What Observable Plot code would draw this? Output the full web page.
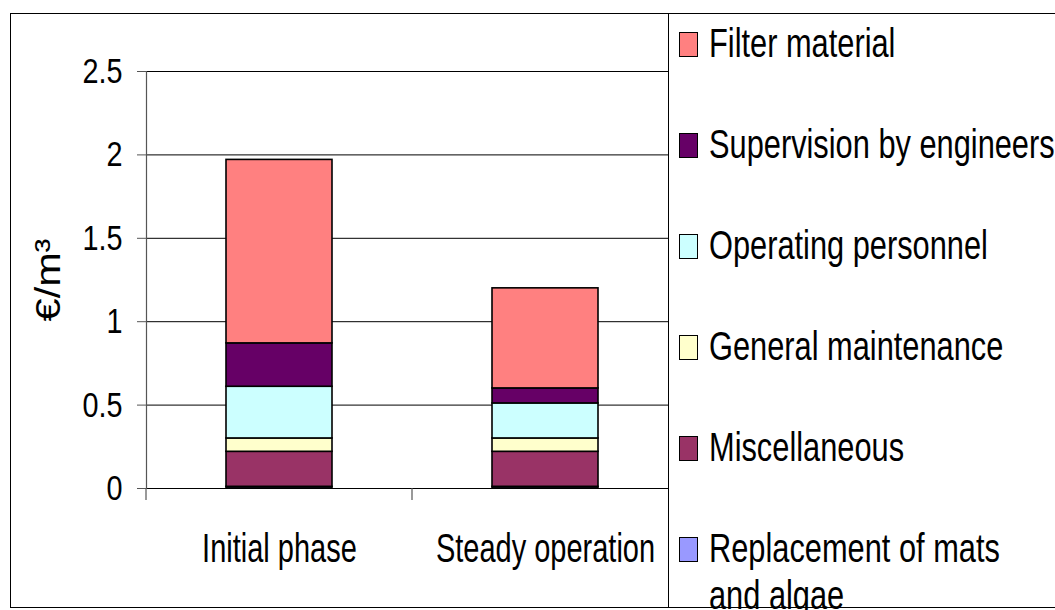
<!DOCTYPE html>
<html>
<head>
<meta charset="utf-8">
<script src="https://cdn.jsdelivr.net/npm/d3@7"></script>
<script src="https://cdn.jsdelivr.net/npm/@observablehq/plot@0.6"></script>
<style>
  html, body { margin: 0; padding: 0; background: #fff; }
  #wrap { position: relative; width: 1055px; height: 610px; overflow: hidden; background: #fff;
          font-family: "Liberation Sans", Arial, sans-serif; }
  #frame { position: absolute; left: 10px; top: 13px; width: 1100px; height: 593px; border: 1px solid #000; pointer-events: none; }
  #legend { position: absolute; left: 668px; top: 14px; width: 400px; height: 593px; background: #fff; border-left: 1px solid #000; }
  .sw { position: absolute; left: 10px; width: 17px; height: 23px; border: 1px solid #000; }
  .lt { position: absolute; left: 40px; font-size: 40.5px; line-height: 47px; color: #000; white-space: nowrap;
        transform: scaleX(0.76); transform-origin: 0 0; }
</style>
</head>
<body>
<div id="wrap"></div>
<script>
const categories = ["Initial phase", "Steady operation"];
const seriesNames = ["Replacement of mats and algae", "Miscellaneous", "General maintenance", "Operating personnel", "Supervision by engineers", "Filter material"];
const initialPhase = [0.01, 0.21, 0.08, 0.31, 0.26, 1.10];
const steadyOperation = [0.01, 0.21, 0.08, 0.21, 0.09, 0.60];
const seriesColors = ["#9999FF", "#993366", "#FFFFCC", "#CCFFFF", "#660066", "#FF8080"];
const yTicks = [0, 0.5, 1, 1.5, 2, 2.5];
const yLabel = "€/m³";
const legendOrder = ["Filter material", "Supervision by engineers", "Operating personnel", "General maintenance", "Miscellaneous", "Replacement of mats and algae"];
const legendLines = {"Replacement of mats and algae": ["Replacement of mats", "and algae"]};

const valuesByCategory = [initialPhase, steadyOperation];
const table = [];
categories.forEach((c, ci) => seriesNames.forEach((s, si) => table.push({category: c, series: s, value: valuesByCategory[ci][si]})));

const font = `"Liberation Sans", Arial, sans-serif`;

const chart = Plot.plot({
  width: 1055,
  height: 610,
  marginLeft: 146,
  marginRight: 377,
  marginTop: 71,
  marginBottom: 122,
  style: {background: "transparent", fontFamily: font, color: "#000"},
  x: {domain: categories, paddingInner: 0.6, paddingOuter: 0.3, axis: null},
  y: {domain: [0, 2.5], axis: null},
  color: {domain: seriesNames, range: seriesColors},
  marks: [
    Plot.ruleY(yTicks, {stroke: "#000", strokeWidth: 1}),
    Plot.frame({anchor: "left", stroke: "#555", strokeWidth: 1.2}),
    Plot.axisY({ticks: yTicks, tickSize: 9, tickPadding: 15, tickFormat: d => String(d), label: null, fontSize: 36, stroke: "#555"}),
    Plot.axisX({tickSize: 0, tickPadding: 45, label: null, fontSize: 40.5}),
    Plot.barY(table, {x: "category", y: "value", fill: "series", stroke: "#000", strokeWidth: 1.6}),
    Plot.text([yLabel], {frameAnchor: "left", textAnchor: "middle", dx: -98, rotate: -90, fontSize: 36, fill: "#000"})
  ]
});

// Narrow / stretched lettering as in the reference: squeeze each text along its own x axis
function squeeze(sel, sx) {
  sel.each(function() {
    const t = d3.select(this);
    const x = +t.attr("x") || 0, y = +t.attr("y") || 0;
    const T = t.attr("transform") || "";
    t.attr("transform", `${T} translate(${x},${y}) scale(${sx},1) translate(${-x},${-y})`);
  });
}
const svg = d3.select(chart);
squeeze(svg.selectAll('g[aria-label="y-axis tick label"] text'), 0.8);
squeeze(svg.selectAll('g[aria-label="x-axis tick label"] text'), 0.716);
squeeze(svg.selectAll('g[aria-label="text"] text'), 1.15);

// category-boundary ticks on the x axis, positioned from the plot's own band scale
const xs = chart.scale("x");
const ys = chart.scale("y");
const gap = (xs.step - xs.bandwidth) / 2;
const bounds = categories.map(c => xs.apply(c) - gap).concat([xs.apply(categories[categories.length - 1]) + xs.bandwidth + gap]);
const y0 = ys.apply(0);
svg.append("g").attr("stroke", "#555").attr("stroke-width", 1.2)
  .selectAll("line").data(bounds).join("line")
  .attr("x1", d => d).attr("x2", d => d).attr("y1", y0).attr("y2", y0 + 12);

const wrap = document.getElementById("wrap");
chart.style.position = "absolute";
chart.style.left = "0px";
chart.style.top = "0px";
wrap.appendChild(chart);

const frame = document.createElement("div");
frame.id = "frame";
wrap.appendChild(frame);

const legend = document.createElement("div");
legend.id = "legend";
const legendTop = 14, firstBaseline = 57, rowGap = 101;
legendOrder.forEach((name, i) => {
  const baseline = firstBaseline + i * rowGap - legendTop;
  const sw = document.createElement("div");
  sw.className = "sw";
  sw.style.top = (baseline - 25) + "px";
  sw.style.background = seriesColors[seriesNames.indexOf(name)];
  legend.appendChild(sw);
  const t = document.createElement("div");
  t.className = "lt";
  t.style.top = (baseline - 37.4) + "px";
  (legendLines[name] || [name]).forEach(line => { const l = document.createElement("div"); l.textContent = line; t.appendChild(l); });
  legend.appendChild(t);
});
wrap.appendChild(legend);
</script>
</body>
</html>
